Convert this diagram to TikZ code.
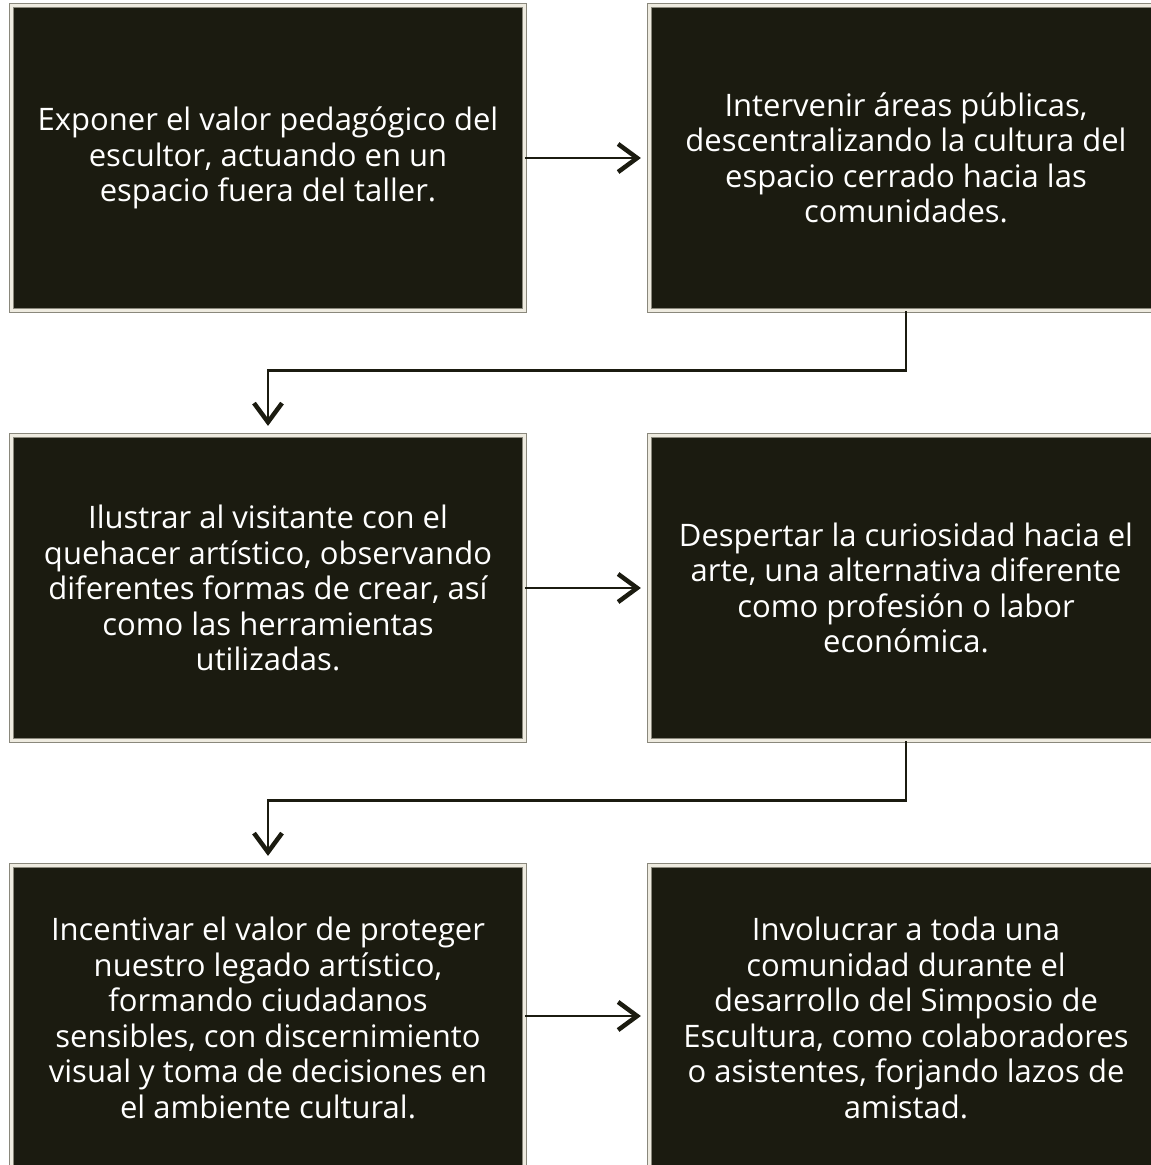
\documentclass[tikz,border=0pt]{standalone}
\usepackage{fontspec}
\setmainfont{Open Sans}
\usetikzlibrary{arrows.meta,calc}
\definecolor{boxdark}{HTML}{1B1B10}
\definecolor{framecream}{HTML}{EEEBE0}
\definecolor{framegray}{HTML}{8A887C}
\tikzset{
  box/.style={rectangle, fill=boxdark, draw=framegray, double=framecream,
    line width=0.8pt, double distance=3pt, minimum width=513.4pt,
    minimum height=305.4pt, inner sep=0pt, align=center, text=white,
    font=\fontsize{31}{35.5}\selectfont},
  conn/.style={draw=boxdark, line width=2.8pt,
    -{Straight Barb[length=19pt,width=28pt,line width=4.5pt]}, shorten >=8pt}
}
\begin{document}
\begin{tikzpicture}[x=1pt,y=1pt]
\useasboundingbox (0,0) rectangle (1151,-1165);
\clip (0,0) rectangle (1151,-1165);
\node[box] (b1) at (268,-158) {Exponer el valor pedagógico del\\escultor, actuando en un\\espacio fuera del taller.};
\node[box] (b2) at (906,-158) {Intervenir áreas públicas,\\descentralizando la cultura del\\espacio cerrado hacia las\\comunidades.};
\node[box] (b3) at (268,-588) {Ilustrar al visitante con el\\quehacer artístico, observando\\diferentes formas de crear, así\\como las herramientas\\utilizadas.};
\node[box] (b4) at (906,-588) {Despertar la curiosidad hacia el\\arte, una alternativa diferente\\como profesión o labor\\económica.};
\node[box] (b5) at (268,-1018) {Incentivar el valor de proteger\\nuestro legado artístico,\\formando ciudadanos\\sensibles, con discernimiento\\visual y toma de decisiones en\\el ambiente cultural.};
\node[box] (b6) at (906,-1018) {Involucrar a toda una\\comunidad durante el\\desarrollo del Simposio de\\Escultura, como colaboradores\\o asistentes, forjando lazos de\\amistad.};
\draw[conn] (b1.east) -- (b2.west);
\draw[conn] (b3.east) -- (b4.west);
\draw[conn] ([yshift=2pt]b5.east) -- ([yshift=2pt]b6.west);
\coordinate (m1) at ($(b2.south)!0.48!(b2.south|-b3.north)$);
\coordinate (m2) at ($(b4.south)!0.48!(b4.south|-b5.north)$);
\draw[conn, shorten >=9pt] (b2.south) |- (m1) -| (b3.north);
\draw[conn, shorten >=9pt] (b4.south) |- (m2) -| (b5.north);
\end{tikzpicture}
\end{document}
